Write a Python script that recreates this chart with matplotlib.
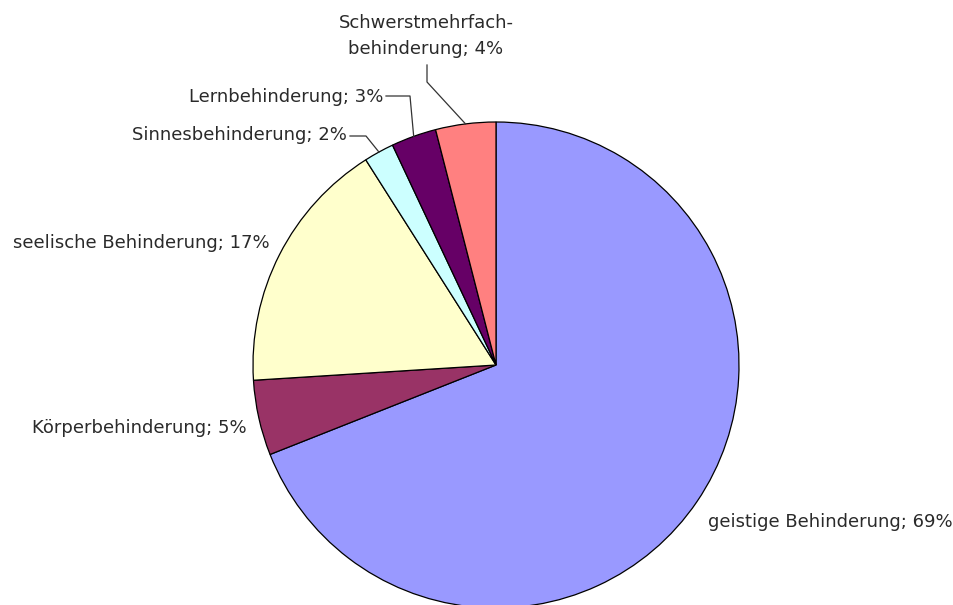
import numpy as np
import matplotlib
matplotlib.use('Agg')
import matplotlib.pyplot as plt

labels = ['geistige Behinderung', 'Körperbehinderung', 'seelische Behinderung',
          'Sinnesbehinderung', 'Lernbehinderung', 'Schwerstmehrfach-\nbehinderung']
values = [69, 5, 17, 2, 3, 4]
colors = ['#9999FF', '#993366', '#FFFFCC', '#CCFFFF', '#660066', '#FF8080']

W, H = 954, 605
fig = plt.figure(figsize=(W / 100, H / 100), dpi=100)
ax = fig.add_axes([0, 0, 1, 1])

cx, cy, r = 496, H - 365, 243
wedges, _ = ax.pie(values, colors=colors, startangle=90, counterclock=False,
                   center=(cx, cy), radius=r, frame=True,
                   wedgeprops=dict(edgecolor='black', linewidth=0.9))
ax.set_xlim(0, W)
ax.set_ylim(0, H)
ax.set_aspect('equal')
ax.axis('off')

def edge_point(i):
    w = wedges[i]
    a = np.deg2rad((w.theta1 + w.theta2) / 2)
    return cx + r * np.cos(a), cy + r * np.sin(a)

txt = dict(fontsize=13, color='#2a2a2a', family='DejaVu Sans')
def label(i):
    return f'{labels[i]}; {values[i]}%'

# label positions in pixels (x, y from top)
ax.text(708, H - 522, label(0), ha='left', va='center', **txt)
ax.text(247, H - 428, label(1), ha='right', va='center', **txt)
ax.text(270, H - 243, label(2), ha='right', va='center', **txt)
ax.text(347, H - 135, label(3), ha='right', va='center', **txt)
ax.text(383, H - 97, label(4), ha='right', va='center', **txt)
ax.text(426, H - 36, label(5), ha='center', va='center', linespacing=1.6, **txt)

# leader lines
lc = dict(color='#333333', linewidth=0.9)
x, y = edge_point(3)
ax.plot([350, 366, x], [H - 136, H - 136, y], **lc)
x, y = edge_point(4)
ax.plot([386, 410, x], [H - 96, H - 96, y], **lc)
x, y = edge_point(5)
ax.plot([427, 427, x], [H - 65, H - 82, y], **lc)

fig.savefig('out.png', dpi=100)
